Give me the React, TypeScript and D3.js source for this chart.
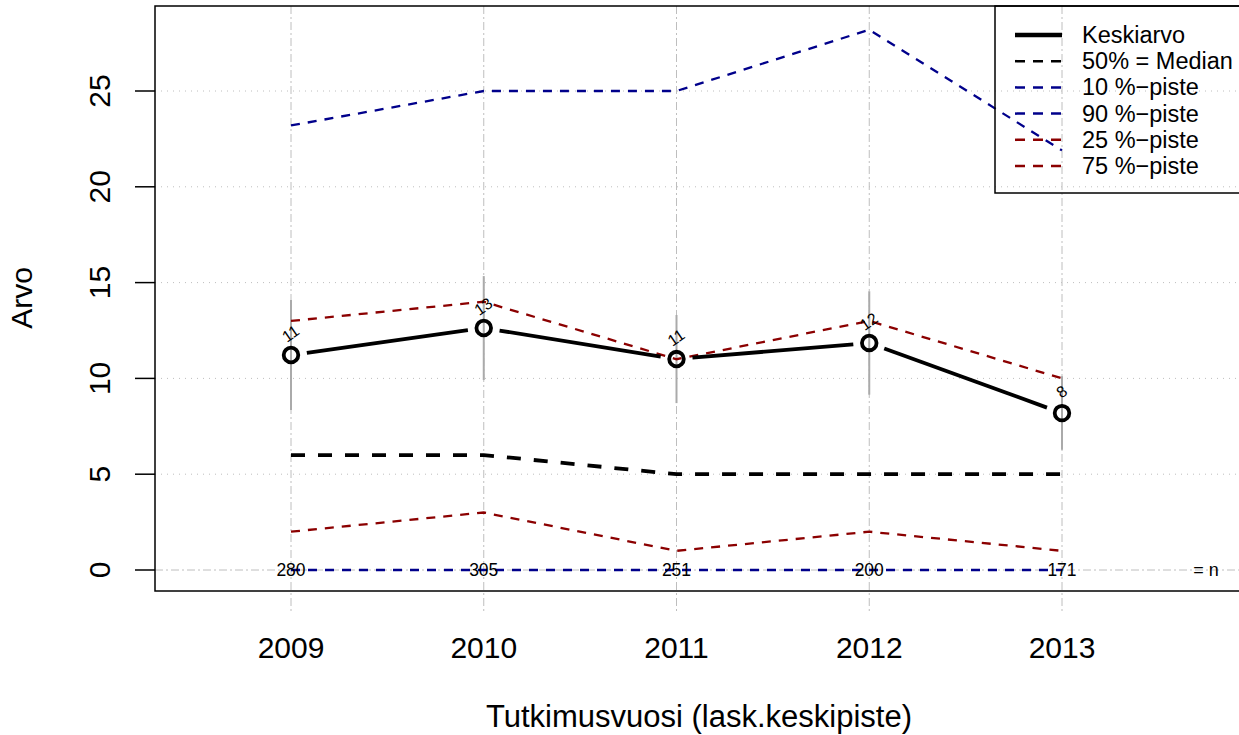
import React from "react";
import * as d3 from "d3";

const years = [2009, 2010, 2011, 2012, 2013];
const meanVals = [11.22, 12.63, 11.01, 11.85, 8.19];
const errHalf = [2.87, 2.71, 2.3, 2.7, 1.92];
const medianVals = [6, 6, 5, 5, 5];
const p10 = [0, 0, 0, 0, 0];
const p90 = [23.2, 25, 25, 28.2, 21.9];
const p25 = [2, 3, 1, 2, 1];
const p75 = [13, 14, 11, 13, 10];
const pointLabels = ["11", "13", "11", "12", "8"];
const nLabels = ["280", "305", "251", "200", "171"];
const yTicks = [0, 5, 10, 15, 20, 25];

const legendItems = [
  { label: "Keskiarvo", color: "#000", dash: "none", w: 4.5 },
  { label: "50% = Median", color: "#000", dash: "10,8", w: 2.5 },
  { label: "10 %\u2212piste", color: "#00008B", dash: "10,8", w: 2.5 },
  { label: "90 %\u2212piste", color: "#00008B", dash: "10,8", w: 2.5 },
  { label: "25 %\u2212piste", color: "#8B0000", dash: "10,8", w: 2.5 },
  { label: "75 %\u2212piste", color: "#8B0000", dash: "10,8", w: 2.5 },
];

const W = 1239, H = 735;
const L = 155, T = 6, R = 1240, B = 591;

export default function App() {
  const x = d3.scaleLinear().domain([2009, 2013]).range([291, 1062]);
  const y = d3.scaleLinear().domain([0, 25]).range([570, 91]);
  const line = d3.line<number>().x((_, i) => x(years[i])).y((v) => y(v));
  const font = "'Liberation Sans', Arial, Helvetica, sans-serif";

  const gap = 16;
  const meanSegs: string[] = [];
  for (let i = 0; i < years.length - 1; i++) {
    const x1 = x(years[i]), y1 = y(meanVals[i]);
    const x2 = x(years[i + 1]), y2 = y(meanVals[i + 1]);
    const dx = x2 - x1, dy = y2 - y1;
    const len = Math.hypot(dx, dy);
    const ux = dx / len, uy = dy / len;
    meanSegs.push(`M${x1 + ux * gap},${y1 + uy * gap}L${x2 - ux * gap},${y2 - uy * gap}`);
  }

  return (
    <svg width={W} height={H} style={{ position: "absolute", left: 0, top: 0, background: "#fff" }} fontFamily={font}>
      {yTicks.map((t) => (
        <line key={"h" + t} x1={L} x2={R} y1={y(t)} y2={y(t)} stroke="#bebebe" strokeWidth={1}
          strokeDasharray={t === 0 ? "8,3,2,3" : "1,5"} />
      ))}
      {years.map((yr) => (
        <line key={"v" + yr} x1={x(yr)} x2={x(yr)} y1={T} y2={612} stroke="#bebebe" strokeWidth={1}
          strokeDasharray="8,3,2,3" />
      ))}
      {years.map((yr, i) => (
        <line key={"e" + yr} x1={x(yr)} x2={x(yr)} y1={y(meanVals[i] + errHalf[i])} y2={y(meanVals[i] - errHalf[i])}
          stroke="#aaaaaa" strokeWidth={2} />
      ))}
      <path d={line(p10) || ""} fill="none" stroke="#00008B" strokeWidth={2.3} strokeDasharray="9,8" />
      <path d={line(p90) || ""} fill="none" stroke="#00008B" strokeWidth={2.3} strokeDasharray="9,8" />
      <path d={line(p25) || ""} fill="none" stroke="#8B0000" strokeWidth={2.3} strokeDasharray="9,8" />
      <path d={line(p75) || ""} fill="none" stroke="#8B0000" strokeWidth={2.3} strokeDasharray="9,8" />
      <path d={line(medianVals) || ""} fill="none" stroke="#000" strokeWidth={3.8} strokeDasharray="14,13" />
      {meanSegs.map((d, i) => (
        <path key={"m" + i} d={d} fill="none" stroke="#000" strokeWidth={3.8} />
      ))}
      {years.map((yr, i) => (
        <circle key={"c" + yr} cx={x(yr)} cy={y(meanVals[i])} r={7.3} fill="none" stroke="#000" strokeWidth={3.8} />
      ))}
      {years.map((yr, i) => (
        <text key={"pl" + yr} x={x(yr)} y={y(meanVals[i]) - 16} fontSize={16} textAnchor="middle"
          transform={`rotate(-35 ${x(yr)} ${y(meanVals[i]) - 21})`} fill="#000">{pointLabels[i]}</text>
      ))}
      {years.map((yr, i) => (
        <text key={"n" + yr} x={x(yr)} y={y(0) + 6} fontSize={17.5} textAnchor="middle" fill="#000">{nLabels[i]}</text>
      ))}
      <text x={1206} y={y(0) + 6} fontSize={18} textAnchor="middle" fill="#000">= n</text>
      <rect x={L} y={T} width={R - L} height={B - T} fill="none" stroke="#000" strokeWidth={1.5} />
      {yTicks.map((t) => (
        <g key={"yt" + t}>
          <line x1={L - 20} x2={L} y1={y(t)} y2={y(t)} stroke="#000" strokeWidth={1.5} />
          <text x={0} y={0} fontSize={30} textAnchor="middle"
            transform={`translate(${110},${y(t)}) rotate(-90)`} fill="#000">{t}</text>
        </g>
      ))}
      {years.map((yr) => (
        <text key={"xt" + yr} x={x(yr)} y={658} fontSize={30} textAnchor="middle" fill="#000">{yr}</text>
      ))}
      <text x={699} y={727} fontSize={31} textAnchor="middle" fill="#000">Tutkimusvuosi (lask.keskipiste)</text>
      <text x={0} y={0} fontSize={30} textAnchor="middle" transform={`translate(32,298) rotate(-90)`} fill="#000">Arvo</text>
      <rect x={995} y={6} width={260} height={187} fill="none" stroke="#000" strokeWidth={1.5} />
      {legendItems.map((it, i) => {
        const ly = 35 + i * 26.2;
        return (
          <g key={"lg" + i}>
            <line x1={1015} x2={1062} y1={ly} y2={ly} stroke={it.color} strokeWidth={it.w} strokeDasharray={it.dash} />
            <text x={1082} y={ly + 8} fontSize={23.5} fill="#000">{it.label}</text>
          </g>
        );
      })}
    </svg>
  );
}
